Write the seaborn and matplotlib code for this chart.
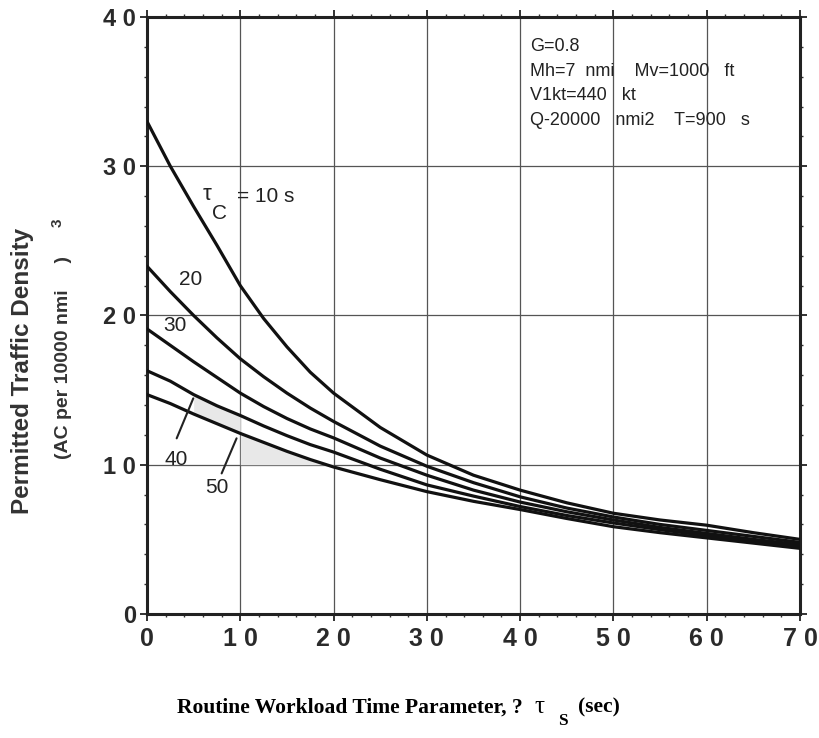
import numpy as np
import pandas as pd
import matplotlib
matplotlib.use("Agg")
import matplotlib.pyplot as plt
import seaborn as sns

# routine workload time tau_s (sec)
tau_s = [0, 2.5, 5, 7.5, 10, 12.5, 15, 17.5, 20, 25, 30, 35, 40, 45, 50, 55, 60, 65, 70]

# permitted traffic density (AC per 10000 nmi^3), one list per conflict time tau_c
dens_10 = [33.0, 30.0, 27.3, 24.7, 22.0, 19.8, 17.9, 16.2, 14.8, 12.5, 10.65, 9.3, 8.3, 7.45, 6.75, 6.3, 5.95, 5.45, 5.0]
dens_20 = [23.3, 21.6, 20.0, 18.5, 17.1, 15.9, 14.8, 13.8, 12.9, 11.25, 9.9, 8.8, 7.85, 7.1, 6.5, 6.0, 5.6, 5.2, 4.8]
dens_30 = [19.1, 18.0, 16.9, 15.85, 14.8, 13.9, 13.1, 12.4, 11.8, 10.45, 9.3, 8.3, 7.5, 6.85, 6.3, 5.8, 5.4, 5.0, 4.65]
dens_40 = [16.3, 15.6, 14.7, 13.95, 13.3, 12.6, 11.95, 11.35, 10.85, 9.7, 8.65, 7.9, 7.2, 6.6, 6.1, 5.65, 5.25, 4.85, 4.5]
dens_50 = [14.7, 14.1, 13.4, 12.75, 12.1, 11.5, 10.9, 10.35, 9.85, 9.0, 8.2, 7.55, 7.0, 6.4, 5.85, 5.45, 5.1, 4.75, 4.4]

tau_c = [10, 20, 30, 40, 50]
curves = [dens_10, dens_20, dens_30, dens_40, dens_50]

x_ticks = [0, 10, 20, 30, 40, 50, 60, 70]
x_labels = ["0", "1 0", "2 0", "3 0", "4 0", "5 0", "6 0", "7 0"]
y_ticks = [0, 10, 20, 30, 40]
y_labels = ["0", "1 0", "2 0", "3 0", "4 0"]

params = ("G=0.8\n"
          "Mh=7  nmi    Mv=1000   ft\n"
          "V1kt=440   kt\n"
          "Q-20000   nmi2    T=900   s")

rows = []
for tc, vals in zip(tau_c, curves):
    for x, v in zip(tau_s, vals):
        rows.append({"tau_s": x, "density": v, "tau_c": tc})
df = pd.DataFrame(rows)

sns.set_style("white")
plt.rcParams['font.family'] = ['Liberation Sans', 'DejaVu Sans']
ink = "#222222"

fig = plt.figure(figsize=(8.19, 7.38), dpi=100)
ax = fig.add_axes([0.1795, 0.168, 0.7973, 0.809])

# light grey shading near the 40 / 50 leader lines
s = np.array(tau_s)
m1 = (s >= 5) & (s <= 10)
ax.fill_between(s[m1], np.array(dens_50)[m1], np.array(dens_40)[m1], color="#e8e8e8", lw=0, zorder=1)
m2 = (s >= 10) & (s <= 20)
ax.fill_between(s[m2], 10, np.array(dens_50)[m2], color="#e8e8e8", lw=0, zorder=1)

sns.lineplot(data=df, x="tau_s", y="density", hue="tau_c", palette=["#111111"] * 5,
             linewidth=2.3, legend=False, ax=ax, zorder=3)

ax.set_xlim(0, 70)
ax.set_ylim(0, 40)
ax.set_xticks(x_ticks)
ax.set_xticklabels(x_labels, fontsize=18, fontweight="bold", color="#2a2a2a")
ax.set_yticks(y_ticks)
ax.set_yticklabels(y_labels, fontsize=17, fontweight="bold", color="#2a2a2a")
ax.set_xticks(np.arange(0, 71, 2), minor=True)
ax.set_yticks(np.arange(0, 41, 2), minor=True)
ax.tick_params(which="major", direction="out", length=5, width=1.3, color=ink,
               top=True, right=True, bottom=True, left=True)
ax.tick_params(axis="x", which="major", pad=4)
ax.tick_params(axis="y", which="major", pad=3)
ax.tick_params(which="minor", direction="out", length=2.5, width=1.0, color="#333333",
               top=True, right=True, bottom=True, left=True)
ax.grid(True, which="major", color="#555555", linewidth=0.9)
for sp in ax.spines.values():
    sp.set_linewidth(2.2)
    sp.set_color(ink)
ax.set_xlabel("")
ax.set_ylabel("")

# curve labels
ax.text(6.4, 28.1, "τ", fontsize=16, color=ink, ha="center", va="center")
ax.text(7.8, 26.8, "C", fontsize=15, color=ink, ha="center", va="center")
ax.text(9.6, 28.0, "= 10 s", fontsize=15, color=ink, ha="left", va="center")
ax.text(4.7, 22.4, "20", fontsize=15, color=ink, ha="center", va="center")
ax.text(3.0, 19.3, "30", fontsize=15, color=ink, ha="center", va="center")
ax.text(3.1, 10.35, "40", fontsize=15, color=ink, ha="center", va="center")
ax.text(7.5, 8.45, "50", fontsize=15, color=ink, ha="center", va="center")
ax.plot([4.96, 3.18], [14.45, 11.77], color=ink, lw=1.5, zorder=3)
ax.plot([9.6, 8.0], [11.77, 9.42], color=ink, lw=1.5, zorder=3)

ax.text(41.1, 38.6, params, fontsize=13, color=ink, ha="left", va="top", linespacing=1.6)

# y axis title
fig.text(0.028, 0.497, "Permitted Traffic Density", rotation=90, fontsize=17.5,
         fontweight="bold", color="#333333", ha="center", va="center")
fig.text(0.078, 0.516, "(AC per 10000 nmi     )", rotation=90, fontsize=14,
         fontweight="bold", color="#333333", ha="center", va="center")
fig.text(0.071, 0.698, "3", rotation=90, fontsize=11, fontweight="bold", color="#333333",
         ha="center", va="center")

# x axis title
serif = ['Liberation Serif', 'DejaVu Serif']
fig.text(0.2161, 0.034, "Routine Workload Time Parameter, ?", fontsize=15.5, fontweight="bold",
         family=serif, color="black", ha="left", va="baseline")
fig.text(0.652, 0.034, "τ", fontsize=18, family=serif, color="black", ha="left", va="baseline")
fig.text(0.681, 0.0176, "S", fontsize=12.5, fontweight="bold", family=serif, color="black",
         ha="left", va="baseline")
fig.text(0.706, 0.034, "(sec)", fontsize=15.5, fontweight="bold", family=serif, color="black",
         ha="left", va="baseline")

fig.savefig("out.png", dpi=100, facecolor="white")
